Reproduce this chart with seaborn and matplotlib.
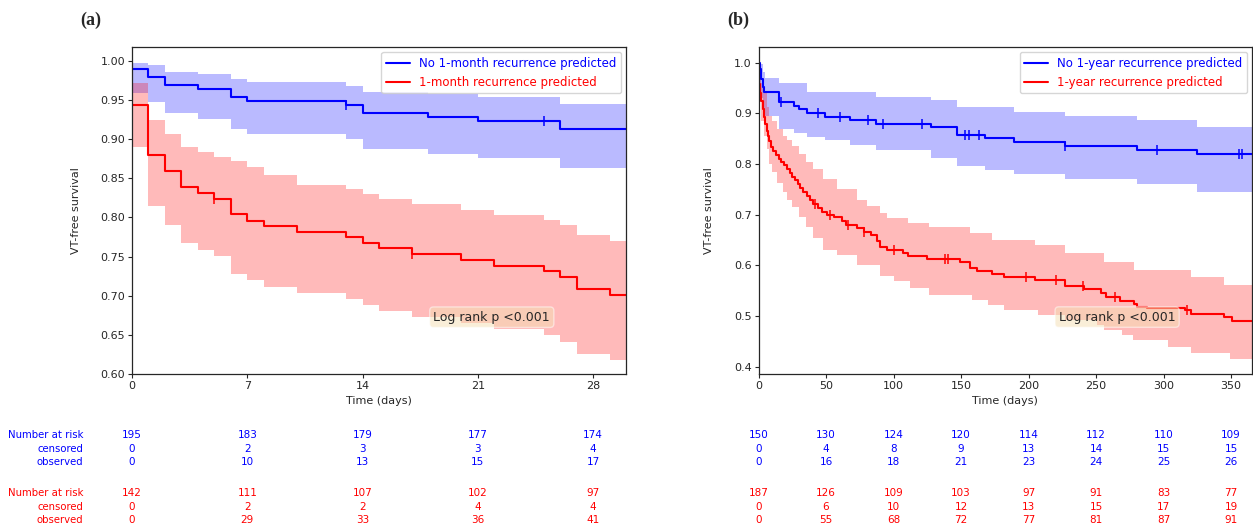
import numpy as np
import matplotlib
matplotlib.use("Agg")
import matplotlib.pyplot as plt
import matplotlib.transforms as mtransforms
import seaborn as sns

# ---- panel (a): 1-month model, steps (days, survival) ----
a_no_t = [0, 1, 2, 4, 6, 7, 13, 14, 18, 21, 26]
a_no_s = [0.990, 0.980, 0.969, 0.964, 0.954, 0.949, 0.944, 0.934, 0.928, 0.923, 0.913]
a_no_hi = [0.998, 0.995, 0.986, 0.984, 0.977, 0.9735, 0.968, 0.961, 0.958, 0.9536, 0.945]
a_no_lo = [0.9587, 0.948, 0.933, 0.926, 0.913, 0.9067, 0.900, 0.8875, 0.881, 0.8756, 0.863]
a_no_cens = [13, 25]

a_yes_t = [0, 1, 2, 3, 4, 5, 6, 7, 8, 10, 13, 14, 15, 17, 20, 22, 25, 26, 27, 29]
a_yes_s = [0.9437, 0.880, 0.8593, 0.839, 0.8316, 0.8235, 0.8043, 0.7958, 0.789, 0.7817,
           0.7746, 0.7677, 0.7605, 0.7532, 0.7455, 0.7382, 0.7315, 0.724, 0.7084, 0.7015]
a_yes_hi = [0.9715, 0.9245, 0.9066, 0.8896, 0.8832, 0.8776, 0.872, 0.865, 0.854, 0.841,
            0.836, 0.830, 0.824, 0.817, 0.8095, 0.803, 0.7966, 0.7903, 0.7775, 0.770]
a_yes_lo = [0.8904, 0.815, 0.790, 0.7669, 0.7584, 0.7507, 0.7277, 0.720, 0.7115, 0.7038,
            0.6957, 0.688, 0.6807, 0.673, 0.6658, 0.6573, 0.6496, 0.641, 0.626, 0.6177]
a_yes_cens = [5, 17]

a_ticks = [0, 7, 14, 21, 28]
a_no_risk = ["195", "183", "179", "177", "174"]
a_no_censored = ["0", "2", "3", "3", "4"]
a_no_observed = ["0", "10", "13", "15", "17"]
a_yes_risk = ["142", "111", "107", "102", "97"]
a_yes_censored = ["0", "2", "2", "4", "4"]
a_yes_observed = ["0", "29", "33", "36", "41"]

# ---- panel (b): 1-year model ----
b_no_t = [0, 1, 2, 3, 4, 15, 26, 30, 36, 49, 68, 87, 128, 147, 168, 189, 227, 280, 325]
b_no_s = [1.0, 0.987, 0.967, 0.953, 0.943, 0.923, 0.915, 0.908, 0.901, 0.893, 0.887,
          0.880, 0.8725, 0.857, 0.851, 0.843, 0.836, 0.828, 0.819]
b_no_hi_t = [0, 1, 3, 5, 15, 36, 87, 128, 147, 189, 227, 280, 325]
b_no_hi = [1.0, 0.997, 0.982, 0.969, 0.959, 0.943, 0.933, 0.926, 0.913, 0.903, 0.895, 0.887, 0.874]
b_no_lo_t = [0, 1, 2, 3, 4, 15, 26, 36, 49, 68, 87, 128, 147, 168, 189, 227, 280, 325]
b_no_lo = [0.99, 0.955, 0.930, 0.912, 0.895, 0.870, 0.861, 0.854, 0.847, 0.838, 0.827,
           0.812, 0.797, 0.789, 0.780, 0.770, 0.760, 0.745]
b_no_cens = [17, 44, 60, 81, 92, 121, 153, 156, 163, 227, 295, 356, 358]

b_yes_t = [0, 1, 2, 3, 4, 5, 6, 7, 8, 9, 11, 13, 15, 17, 19, 21, 23, 25, 27, 29, 31, 33,
           36, 38, 40, 44, 47, 51, 56, 62, 65, 73, 78, 83, 88, 90, 95, 107, 111, 125, 149,
           157, 162, 173, 182, 205, 227, 241, 254, 257, 268, 278, 280, 288, 316, 320, 345, 351]
b_yes_s = [0.957, 0.941, 0.925, 0.909, 0.893, 0.880, 0.866, 0.856, 0.845, 0.834, 0.826,
           0.818, 0.810, 0.804, 0.798, 0.790, 0.782, 0.775, 0.768, 0.760, 0.752, 0.745,
           0.737, 0.729, 0.721, 0.713, 0.706, 0.699, 0.696, 0.688, 0.680, 0.673, 0.666,
           0.660, 0.648, 0.637, 0.630, 0.624, 0.6185, 0.612, 0.606, 0.594, 0.589, 0.583,
           0.5765, 0.571, 0.559, 0.553, 0.545, 0.538, 0.530, 0.523, 0.518, 0.515, 0.512,
           0.5035, 0.499, 0.491]
b_yes_hi_t = [0, 2, 4, 6, 8, 10, 14, 18, 21, 25, 30, 35, 40, 48, 58, 73, 80, 90, 95, 111,
              126, 157, 173, 205, 227, 256, 278, 320, 345]
b_yes_hi = [0.985, 0.960, 0.940, 0.912, 0.895, 0.885, 0.870, 0.856, 0.848, 0.835, 0.820,
            0.805, 0.790, 0.770, 0.750, 0.730, 0.718, 0.703, 0.693, 0.683, 0.676, 0.663,
            0.650, 0.640, 0.624, 0.607, 0.591, 0.578, 0.561]
b_yes_lo_t = [0, 2, 4, 6, 8, 10, 14, 18, 21, 25, 30, 35, 40, 48, 58, 73, 90, 100, 112, 126,
              158, 170, 182, 207, 227, 251, 256, 269, 277, 303, 320, 349]
b_yes_lo = [0.930, 0.885, 0.855, 0.830, 0.800, 0.785, 0.762, 0.745, 0.730, 0.715, 0.695,
            0.675, 0.655, 0.630, 0.620, 0.601, 0.580, 0.570, 0.555, 0.5415, 0.532, 0.522,
            0.512, 0.502, 0.492, 0.482, 0.4725, 0.4626, 0.4527, 0.4395, 0.4265, 0.4146]
b_yes_cens = [42, 53, 66, 78, 100, 138, 140, 198, 220, 240, 264, 317]

b_ticks = [0, 50, 100, 150, 200, 250, 300, 350]
b_no_risk = ["150", "130", "124", "120", "114", "112", "110", "109"]
b_no_censored = ["0", "4", "8", "9", "13", "14", "15", "15"]
b_no_observed = ["0", "16", "18", "21", "23", "24", "25", "26"]
b_yes_risk = ["187", "126", "109", "103", "97", "91", "83", "77"]
b_yes_censored = ["0", "6", "10", "12", "13", "15", "17", "19"]
b_yes_observed = ["0", "55", "68", "72", "77", "81", "87", "91"]

BLUE = "#0000ff"
RED = "#ff0000"
W, H = 1253, 531


def step_at(t, s, x):
    idx = np.searchsorted(np.asarray(t), np.asarray(x), side="right") - 1
    return np.asarray(s)[idx]


def draw_km(ax, t, s, lo_t, lo, hi_t, hi, cens, color, label, t_end):
    grid = np.union1d(np.union1d(lo_t, hi_t), [t_end])
    ax.fill_between(grid, step_at(lo_t, lo, grid), step_at(hi_t, hi, grid),
                    step="post", color=color, alpha=0.27, lw=0)
    sns.lineplot(x=list(t) + [t_end], y=list(s) + [s[-1]], drawstyle="steps-post",
                 color=color, lw=1.5, label=label, ax=ax, estimator=None, sort=False)
    sns.scatterplot(x=cens, y=step_at(t, s, cens), marker="|", color=color, s=50,
                    linewidth=1.1, ax=ax, legend=False, zorder=3)


def risk_table(fig, ax, ticks, rows, colors, with_labels):
    tr = mtransforms.blended_transform_factory(ax.transData, fig.transFigure)
    row_y = [435, 448.5, 462, 493, 506.5, 520]
    names = ["Number at risk", "censored", "observed"] * 2
    for i, (vals, c) in enumerate(zip(rows, colors)):
        y = 1 - row_y[i] / H
        for x, v in zip(ticks, vals):
            ax.text(x, y, v, transform=tr, ha="center", va="center", color=c, fontsize=7.5)
        if with_labels:
            fig.text(83 / W, y, names[i], ha="right", va="center", color=c, fontsize=7.3)


sns.set_style("ticks")
plt.rcParams["font.family"] = ["DejaVu Sans"]

fig = plt.figure(figsize=(W / 100, H / 100), dpi=100)
ax_a = fig.add_axes([132 / W, 1 - 374 / H, 494 / W, 326.7 / H])
ax_b = fig.add_axes([758.5 / W, 1 - 374 / H, 493.5 / W, 326.7 / H])

draw_km(ax_a, a_no_t, a_no_s, a_no_t, a_no_lo, a_no_t, a_no_hi, a_no_cens, BLUE,
        "No 1-month recurrence predicted", 30)
draw_km(ax_a, a_yes_t, a_yes_s, a_yes_t, a_yes_lo, a_yes_t, a_yes_hi, a_yes_cens, RED,
        "1-month recurrence predicted", 30)
draw_km(ax_b, b_no_t, b_no_s, b_no_lo_t, b_no_lo, b_no_hi_t, b_no_hi, b_no_cens, BLUE,
        "No 1-year recurrence predicted", 366)
draw_km(ax_b, b_yes_t, b_yes_s, b_yes_lo_t, b_yes_lo, b_yes_hi_t, b_yes_hi, b_yes_cens, RED,
        "1-year recurrence predicted", 366)

ax_a.set_xlim(0, 30)
ax_a.set_ylim(0.60, 1.0175)
ax_a.set_xticks(a_ticks)
ax_a.set_yticks(np.arange(0.60, 1.001, 0.05))
ax_a.yaxis.set_major_formatter(matplotlib.ticker.FormatStrFormatter("%.2f"))
ax_b.set_xlim(0, 365.5)
ax_b.set_ylim(0.3856, 1.0304)
ax_b.set_xticks(b_ticks)
ax_b.set_yticks(np.arange(0.4, 1.001, 0.1))
ax_b.yaxis.set_major_formatter(matplotlib.ticker.FormatStrFormatter("%.1f"))

for ax, lx, ly, ypad in [(ax_a, 21.85, 0.6726, 14), (ax_b, 265.6, 0.498, 14)]:
    ax.set_xlabel("Time (days)", fontsize=8, labelpad=4)
    ax.set_ylabel("VT-free survival", fontsize=8, labelpad=ypad)
    ax.tick_params(labelsize=8, length=3, pad=2)
    for sp in ax.spines.values():
        sp.set_linewidth(0.9)
    ax.legend(loc="upper right", fontsize=8.5, labelcolor="linecolor", framealpha=0.8,
              borderaxespad=0.4, handlelength=2.0)
    ax.text(lx, ly, "Log rank p <0.001", ha="center", va="center", fontsize=9,
            bbox=dict(boxstyle="round", facecolor="wheat", alpha=0.5))

risk_table(fig, ax_a, a_ticks,
           [a_no_risk, a_no_censored, a_no_observed, a_yes_risk, a_yes_censored, a_yes_observed],
           [BLUE] * 3 + [RED] * 3, True)
risk_table(fig, ax_b, b_ticks,
           [b_no_risk, b_no_censored, b_no_observed, b_yes_risk, b_yes_censored, b_yes_observed],
           [BLUE] * 3 + [RED] * 3, False)

fig.text(80 / W, 1 - 20 / H, "(a)", family="Liberation Serif", fontweight="bold",
         fontsize=13, va="center")
fig.text(727 / W, 1 - 20 / H, "(b)", family="Liberation Serif", fontweight="bold",
         fontsize=13, va="center")

fig.savefig("out.png", dpi=100)
